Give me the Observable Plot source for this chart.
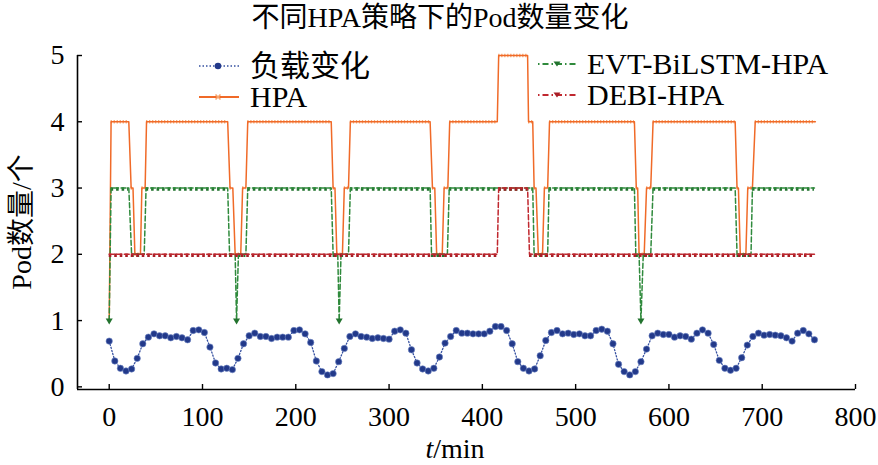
<!DOCTYPE html>
<html><head><meta charset="utf-8">
<script src="https://cdn.jsdelivr.net/npm/d3@7"></script>
<script src="https://cdn.jsdelivr.net/npm/@observablehq/plot@0.6"></script>
<style>
body{margin:0;background:#fff;}
#wrap{position:relative;width:878px;height:465px;font-family:"Liberation Serif","Noto Sans CJK SC",serif;color:#000;overflow:hidden;}
.ov{position:absolute;white-space:nowrap;}
.sw{position:absolute;}
</style></head><body><div id="wrap"></div>
<script>
// ---- data ----
const xTicks = [0,100,200,300,400,500,600,700,800];
const yTicks = [0,1,2,3,4,5];
const seriesNames = ["负载变化","HPA","EVT-BiLSTM-HPA","DEBI-HPA"];

// load curve, one sample every 6 min from t=0
const loadStep = 6;
const loadValues = [
 0.69,0.39,0.28,0.24,0.27,0.43,0.65,0.75,0.80,0.77,
 0.77,0.74,0.76,0.74,0.71,0.85,0.86,0.82,0.60,0.36,
 0.27,0.28,0.26,0.43,0.65,0.77,0.81,0.76,0.76,0.73,
 0.75,0.75,0.75,0.85,0.86,0.80,0.67,0.39,0.23,0.18,
 0.20,0.38,0.58,0.76,0.80,0.76,0.75,0.73,0.74,0.73,
 0.72,0.84,0.86,0.81,0.56,0.36,0.27,0.24,0.28,0.45,
 0.66,0.76,0.85,0.81,0.81,0.80,0.80,0.80,0.84,0.91,
 0.91,0.85,0.65,0.38,0.28,0.24,0.27,0.47,0.70,0.82,
 0.85,0.80,0.81,0.79,0.80,0.77,0.77,0.85,0.87,0.84,
 0.65,0.34,0.23,0.18,0.23,0.38,0.57,0.77,0.81,0.79,
 0.79,0.75,0.77,0.76,0.72,0.81,0.86,0.81,0.64,0.40,
 0.28,0.25,0.28,0.44,0.63,0.76,0.81,0.78,0.79,0.78,
 0.77,0.74,0.69,0.81,0.85,0.80,0.71];

// pod counts as runs: start (min), end (min), pod level
const hpaStart = [0,2,23.5,27.5,35,40,129.5,135,143,148.5,240,244,252,258.5,346.5,351,359,365,417.5,449.5,455.5,460,466.5,472,565,568,576,583,673,676.5,684.5,692.5];
const hpaEnd   = [0,21,25.5,33.5,38.5,127,132.5,141,146.5,238,242,250,256.5,344,349,357,363,416,448.5,454,457.5,464.5,470,563,566.5,573.5,580.5,671,674.5,682.5,689.5,757];
const hpaLevel = [1,4,3,2,3,4,3,2,3,4,3,2,3,4,3,2,3,4,5,4,3,2,3,4,3,2,3,4,3,2,3,4];

const evtStart = [0,2,24,39.5,129,136.5,138.5,148.5,240,246.5,248.5,258.5,345.5,364.5,455.5,471.5,564.5,570,572.5,583,673,689.5];
const evtEnd   = [0,21,37.5,127,135,136.5,146.5,238,245,246.5,256.5,344,362.5,454,470,563,568,570,580.5,671,688,756];
const evtLevel = [1,3,2,3,2,1,2,3,2,1,2,3,2,3,2,3,2,1,2,3,2,3];

const debiStart = [0,417.5,450.5];
const debiEnd   = [416,448.5,756];
const debiLevel = [2,3,2];

// ---- build tables ----
const loadData = loadValues.map((v,i)=>({t:i*loadStep, v}));
const runs = (s,e,l)=>s.map((d,i)=>({start:d,end:e[i],level:l[i]}));
const verts = r=>r.flatMap(d=>[{t:d.start,v:d.level},{t:d.end,v:d.level}]);
const hpaRuns = runs(hpaStart,hpaEnd,hpaLevel);
const evtRuns = runs(evtStart,evtEnd,evtLevel);
const debiRuns = runs(debiStart,debiEnd,debiLevel);

const C = {load:"#3550a0", loadDot:"#22398a", hpa:"#f06a28", hpaMk:"#f7a872", evt:"#2f8a3c", evtMk:"#22732e", debi:"#c0282f", debiMk:"#a81e26"};
const FONT = '"Liberation Serif","Noto Sans CJK SC",serif';

const plot = Plot.plot({
  width: 878, height: 465,
  marginLeft: 77, marginRight: 23, marginTop: 55, marginBottom: 76,
  x: {domain: [-34, 800]},
  y: {domain: [-0.04, 5]},
  style: {fontFamily: FONT, fontSize: "28px", color: "#000", background: "transparent", overflow: "visible"},
  marks: [
    Plot.ruleY([-0.04], {stroke: "#000", strokeWidth: 1.6}),
    Plot.ruleX([-34], {stroke: "#000", strokeWidth: 1.6, y1: -0.04, y2: 5}),
    Plot.axisX({ticks: xTicks, tickFormat: d3.format("d"), tickSize: -5, tickPadding: 22, label: null, fontSize: 28, strokeWidth: 1.4}),
    Plot.axisY({ticks: yTicks, tickFormat: d3.format("d"), tickSize: -5, tickPadding: 18, label: null, fontSize: 28, strokeWidth: 1.4}),
    // HPA
    Plot.ruleY(hpaRuns, {y: "level", x1: "start", x2: "end", stroke: C.hpaMk, strokeWidth: 3.6, strokeDasharray: "1.3,1.7"}),
    Plot.line(verts(hpaRuns), {x: "t", y: "v", stroke: C.hpa, strokeWidth: 1.5}),
    // EVT-BiLSTM-HPA
    Plot.ruleY(evtRuns, {y: "level", x1: "start", x2: "end", stroke: C.evtMk, strokeWidth: 3.4, strokeDasharray: "2.6,2.9", dy: 1}),
    Plot.line(verts(evtRuns), {x: "t", y: "v", stroke: C.evt, strokeWidth: 1.5, strokeDasharray: "5,2.5"}),
    Plot.dot(evtRuns.filter(d=>d.start===d.end), {x: "start", y: "level", symbol: "triangle", rotate: 180, r: 2.6, fill: C.evtMk, stroke: "none"}),
    // DEBI-HPA
    Plot.ruleY(debiRuns, {y: "level", x1: "start", x2: "end", stroke: C.debiMk, strokeWidth: 3.4, strokeDasharray: "2.6,2.9", dy: 1}),
    Plot.line(verts(debiRuns), {x: "t", y: "v", stroke: C.debi, strokeWidth: 1.5, strokeDasharray: "5,2.5"}),
    // load
    Plot.line(loadData, {x: "t", y: "v", stroke: C.load, strokeWidth: 1.3, strokeDasharray: "1.2,2"}),
    Plot.dot(loadData, {x: "t", y: "v", r: 3.2, fill: C.loadDot, stroke: "#6f86c4", strokeWidth: 0.6})
  ]
});

const wrap = document.getElementById("wrap");
plot.style.position = "absolute"; plot.style.left = "0"; plot.style.top = "0";
wrap.appendChild(plot);

function addText(html, css){
  const d = document.createElement("div");
  d.className = "ov"; d.innerHTML = html; Object.assign(d.style, css);
  wrap.appendChild(d); return d;
}
// title
addText("不同HPA策略下的Pod数量变化", {left:"0px", width:"880px", textAlign:"center", top:"3px", fontSize:"28px", lineHeight:"30px"});
// axis labels
addText("<i>t</i>/min", {left:"355px", width:"200px", textAlign:"center", top:"434px", fontSize:"28px", lineHeight:"30px"});
addText("Pod数量/个", {left:"-128px", width:"300px", textAlign:"center", top:"207px", fontSize:"28px", lineHeight:"30px", transform:"rotate(-90deg)"});

// legend
const swatches = [
  `<line x1="2" x2="42" y1="10" y2="10" stroke="${C.load}" stroke-width="1.6" stroke-dasharray="1.5,2"/><circle cx="21" cy="10" r="3.3" fill="${C.loadDot}"/>`,
  `<line x1="2" x2="42" y1="10" y2="10" stroke="${C.hpa}" stroke-width="2.2"/><path d="M18.5,7.5L23.5,12.5M23.5,7.5L18.5,12.5" stroke="${C.hpaMk}" stroke-width="1.6"/>`,
  `<line x1="2" x2="42" y1="10" y2="10" stroke="${C.evt}" stroke-width="1.8" stroke-dasharray="1.5,3,6,3"/><path d="M17.5,7.5L24.5,7.5L21,12.5Z" fill="${C.evtMk}"/>`,
  `<line x1="2" x2="42" y1="10" y2="10" stroke="${C.debi}" stroke-width="1.8" stroke-dasharray="1.5,3,6,3"/><path d="M17.5,7.5L24.5,7.5L21,12.5Z" fill="${C.debiMk}"/>`
];
const legendPos = [[197,250,66],[197,250,97],[536,587,64],[536,587,95]];
seriesNames.forEach((name,i)=>{
  const [sx,tx,cy] = legendPos[i];
  const s = document.createElementNS("http://www.w3.org/2000/svg","svg");
  s.setAttribute("width","44"); s.setAttribute("height","20");
  s.setAttribute("class","sw"); s.style.left = sx+"px"; s.style.top = (cy-10)+"px";
  s.innerHTML = swatches[i];
  wrap.appendChild(s);
  addText(name, {left: tx+"px", top: (cy-13)+"px", fontSize: "30px", lineHeight: "26px"});
});
</script>
</body></html>
